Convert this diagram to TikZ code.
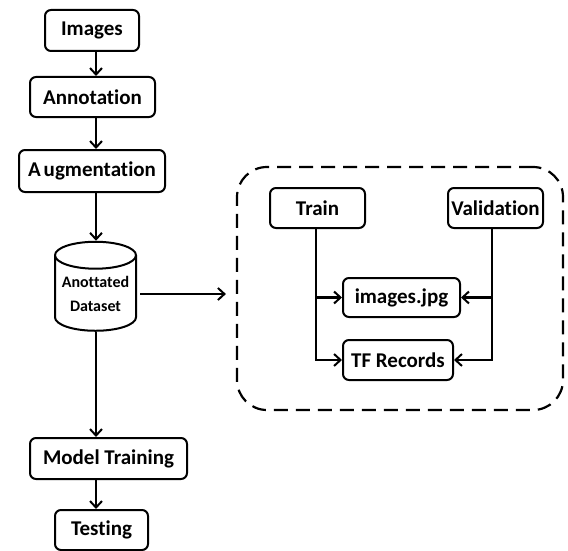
\documentclass[tikz,border=0pt]{standalone}
\usepackage{fontspec}
\setmainfont{Carlito}[Ligatures=NoCommon]
\usetikzlibrary{shapes.geometric,arrows.meta}
\begin{document}
\begin{tikzpicture}[x=1pt,y=-1pt,
  box/.style={draw, line width=2pt, rounded corners=6pt, font=\bfseries\fontsize{21}{23}\selectfont, inner sep=0pt},
  arr/.style={line width=2.2pt, -{Straight Barb[length=6.5pt,width=12pt,line width=2pt]}},
  grp/.style={draw, line width=2.2pt, rounded corners=30pt, dash pattern=on 14pt off 8pt}]
\useasboundingbox (0,0) rectangle (568,551);
\coordinate (spine) at (96,0);
\node[box, minimum width=94pt, minimum height=41pt] (img) at (92,30.5) {Images};
\node[box, minimum width=125pt, minimum height=40pt] (ann) at (92.5,97) {Annotation};
\node[box, minimum width=146pt, minimum height=42pt] (aug) at (92,171) {A\hspace{3pt}ugmentation};
\node[draw, line width=2pt, cylinder, shape border rotate=90, aspect=0.4, minimum width=81pt, minimum height=89pt, inner sep=0pt, align=center, font=\bfseries\fontsize{16}{24}\selectfont] (cyl) at (95.5,293.5) {Anottated\\Dataset};
\node[box, minimum width=157pt, minimum height=41pt] (mt) at (108.5,458.5) {Model Training};
\node[box, minimum width=93pt, minimum height=40pt] (test) at (101.5,530) {Testing};
\node[grp, minimum width=326pt, minimum height=243pt] (group) at (400,288.5) {};
\node[box, minimum width=95pt, minimum height=40pt] (train) at (317.5,208) {Train};
\node[box, minimum width=95pt, minimum height=40pt] (val) at (495.5,208) {Validation};
\node[box, minimum width=117pt, minimum height=39pt] (jpg) at (401.5,297.5) {images.jpg};
\node[box, minimum width=110pt, minimum height=40pt] (tf) at (398,360) {TF Records};
\draw[arr] (img.south -| spine) -- (ann.north -| spine);
\draw[arr] (ann.south -| spine) -- (aug.north -| spine);
\draw[arr] (aug.south -| spine) -- (cyl.north -| spine);
\draw[arr] (cyl.south -| spine) -- (mt.north -| spine);
\draw[arr] (mt.south -| spine) -- (test.north -| spine);
\draw[arr, shorten <=3pt, shorten >=10pt] ([yshift=-0.5pt]cyl.east) -- ([yshift=-0.5pt]group.west |- cyl.east);
\draw[arr] ([xshift=-1.5pt]train.south) |- (tf.west);
\draw[arr] ([xshift=-1.5pt]train.south |- jpg.west) -- (jpg.west);
\draw[arr] ([xshift=-3.5pt]val.south) |- (tf.east);
\draw[arr] ([xshift=-3.5pt]val.south |- jpg.east) -- (jpg.east);
\end{tikzpicture}
\end{document}
